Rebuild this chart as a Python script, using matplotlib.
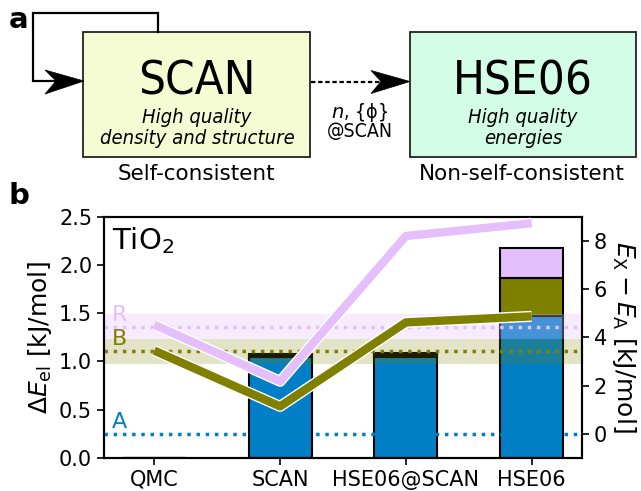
import matplotlib
matplotlib.use("Agg")
import matplotlib.pyplot as plt
import matplotlib.patheffects as pe
from matplotlib.patches import Rectangle, Polygon
import numpy as np

# ---------------- data ----------------
methods = ["QMC", "SCAN", "HSE06@SCAN", "HSE06"]
bar_A = [0.004, 1.045, 1.045, 1.467]
bar_B = [0.0, 0.02, 0.02, 0.403]
bar_R = [0.0, 0.015, 0.02, 0.305]
line_R = [4.52, 2.18, 8.20, 8.73]
line_B = [3.45, 1.14, 4.62, 4.87]
ref_A = 0.25
ref_B = 1.11
ref_R = 1.36
band_B = (0.975, 1.23)
band_R = (1.235, 1.49)
left_ticks = [0.0, 0.5, 1.0, 1.5, 2.0, 2.5]
right_ticks = [0, 2, 4, 6, 8]

blue = "#007fc6"
olive = "#808000"
pink = "#e5befc"

W, H = 641, 491
fig = plt.figure(figsize=(W / 100, H / 100), dpi=100)

# ---------------- panel a (diagram) ----------------
ax0 = fig.add_axes([0, 0, 1, 1])
ax0.set_xlim(0, W)
ax0.set_ylim(H, 0)
ax0.axis("off")

ax0.add_patch(Rectangle((83, 32), 227, 125, facecolor="#f5fcd3", edgecolor="#222222", lw=1.3))
ax0.add_patch(Rectangle((410, 32), 226, 125, facecolor="#d3fde6", edgecolor="#222222", lw=1.3))

# loop arrow
ax0.plot([158, 158, 33, 33, 56], [32, 12.7, 12.7, 81, 81], color="black", lw=1.6,
         solid_joinstyle="miter")
ax0.add_patch(Polygon([[84, 81], [45, 70], [56, 81], [45, 94]], closed=True,
                      facecolor="black", edgecolor="black", lw=0.5))
# dashed arrow
ax0.plot([311, 381], [81.5, 81.5], color="black", lw=1.6, linestyle=(0, (2.0, 1.2)))
ax0.add_patch(Polygon([[410, 81.5], [371, 70.5], [381, 81.5], [371, 93.5]], closed=True,
                      facecolor="black", edgecolor="black", lw=0.5))

cond = dict(family="DejaVu Sans", fontstretch="condensed")
ax0.text(197, 94, "SCAN", ha="center", va="baseline", fontsize=34, **cond)
ax0.text(523, 94, "HSE06", ha="center", va="baseline", fontsize=34, **cond)
ax0.text(197, 143.5, "High quality\ndensity and structure", ha="center", va="baseline",
         fontsize=14.5, style="italic", linespacing=1.1, multialignment="center", **cond)
ax0.text(523, 143.5, "High quality\nenergies", ha="center", va="baseline",
         fontsize=14.5, style="italic", linespacing=1.1, multialignment="center", **cond)
ax0.text(360, 137, "$n$, {ϕ}\n@SCAN", ha="center", va="baseline", fontsize=14,
         linespacing=0.85, multialignment="center", **cond)
ax0.text(196, 180, "Self-consistent", ha="center", va="baseline", fontsize=15.5)
ax0.text(522, 180, "Non-self-consistent", ha="center", va="baseline", fontsize=15.5)
ax0.text(19, 20, "a", ha="center", va="center", fontsize=21, fontweight="bold")
ax0.text(19, 196, "b", ha="center", va="center", fontsize=21, fontweight="bold")

# ---------------- panel b ----------------
ax = fig.add_axes([104 / W, 1 - 458 / H, (582 - 104) / W, (458 - 216.7) / H])
x = np.arange(len(methods))
bA = np.array(bar_A)
bB = np.array(bar_B)
bR = np.array(bar_R)
ax.bar(x, bA, width=0.5, color=blue, edgecolor="black", lw=1.5, zorder=2)
ax.bar(x, bB, width=0.5, bottom=bA, color=olive, edgecolor="black", lw=1.5, zorder=2)
ax.bar(x, bR, width=0.5, bottom=bA + bB, color=pink, edgecolor="black", lw=1.5, zorder=2)

ax.axhspan(*band_R, color=pink, alpha=0.3, lw=0, zorder=3)
ax.axhspan(*band_B, color=olive, alpha=0.22, lw=0, zorder=3)
ax.axhline(ref_A, color=blue, ls=":", lw=2.5, zorder=4)
ax.axhline(ref_B, color=olive, ls=":", lw=2.5, zorder=4)
ax.axhline(ref_R, color=pink, ls=":", lw=2.5, zorder=4)

ax.text(-0.34, ref_A + 0.02, "A", color=blue, fontsize=16, va="bottom", ha="left")
ax.text(-0.34, ref_B + 0.02, "B", color=olive, fontsize=16, va="bottom", ha="left")
ax.text(-0.34, ref_R + 0.02, "R", color=pink, fontsize=16, va="bottom", ha="left")
ax.text(-0.34, 2.25, r"TiO$_2$", fontsize=21, va="center", ha="left")

ax.set_xlim(-0.4, 3.4)
ax.set_ylim(0, 2.5)
ax.set_yticks(left_ticks)
ax.set_xticks(x)
ax.set_xticklabels(methods)
ax.tick_params(labelsize=15, width=1.2, length=5)
ax.set_ylabel(r"$\mathit{\Delta E}_\mathrm{el}$ [kJ/mol]", fontsize=18, labelpad=4)
for s in ax.spines.values():
    s.set_linewidth(1.5)

ax2 = ax.twinx()
stroke = [pe.Stroke(linewidth=8, foreground="white"), pe.Normal()]
ax2.plot(x, line_R, color=pink, lw=6, solid_capstyle="butt", path_effects=stroke, zorder=5)
ax2.plot(x, line_B, color=olive, lw=6, solid_capstyle="butt", path_effects=stroke, zorder=5)
ax2.set_ylim(-1, 9)
ax2.set_yticks(right_ticks)
ax2.tick_params(labelsize=15, width=1.2, length=5)
ax2.set_ylabel(r"$E_\mathrm{X} - E_\mathrm{A}$ [kJ/mol]", fontsize=18, rotation=270,
               labelpad=22)
for s in ax2.spines.values():
    s.set_linewidth(1.5)

fig.savefig("out.png", dpi=100)
